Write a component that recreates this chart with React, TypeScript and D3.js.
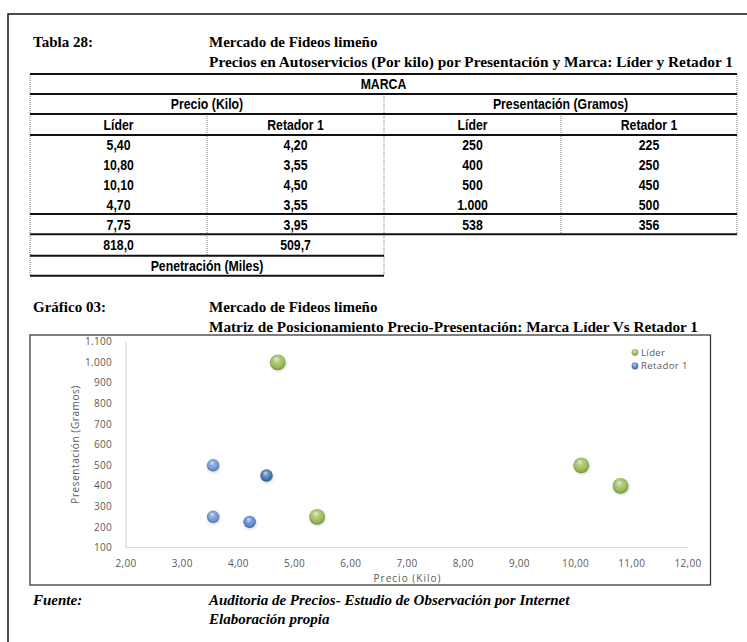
import React from "react";
import * as d3 from "d3";

const W = 747;
const H = 642;

// Tabla 28: precios por kilo y presentación en gramos, por marca
const seriesNames = ["Líder", "Retador 1"];
const precioLider = [5.4, 10.8, 10.1, 4.7];
const precioRetador = [4.2, 3.55, 4.5, 3.55];
const gramosLider = [250, 400, 500, 1000];
const gramosRetador = [225, 250, 450, 500];
const promedioPrecio = [7.75, 3.95];
const promedioGramos = [538, 356];
const penetracionMiles = [818.0, 509.7];

// Ticks de los ejes del gráfico 03
const precioTicks = [2, 3, 4, 5, 6, 7, 8, 9, 10, 11, 12];
const gramosTicks = [100, 200, 300, 400, 500, 600, 700, 800, 900, 1000, 1100];

// Colores de las burbujas
const liderColors = ["#9bbb59", "#9bbb59", "#9bbb59", "#9bbb59"];
const retadorColors = ["#5b87c9", "#6d95d2", "#4075a8", "#6d95d2"];
const legendColors = ["#9bbb59", "#4f81bd"];

const es = d3.formatLocale({ decimal: ",", thousands: ".", grouping: [3], currency: ["", ""] });
const f2 = es.format(",.2f");
const f1 = es.format(",.1f");
const f0 = es.format(",.0f");

const SANS = "'Liberation Sans', Arial, sans-serif";
const SERIF = "'Liberation Serif', 'Times New Roman', serif";
const CHART = "'Open Sans', 'Noto Sans', sans-serif";

function gradId(c: string) {
  return "sph" + c.replace("#", "");
}

function Sphere({ cx, cy, r, color }: { cx: number; cy: number; r: number; color: string }) {
  return (
    <g>
      <ellipse cx={cx + 0.6} cy={cy + 1.2} rx={r + 0.6} ry={r + 0.4} fill="#000" opacity={0.12} filter="url(#soft)" />
      <circle cx={cx} cy={cy} r={r} fill={`url(#${gradId(color)})`} />
    </g>
  );
}

export default function App() {
  // Geometría de la tabla
  const colX = [30, 207, 384, 561, 737];
  const rowY = [74, 94, 114, 135, 154.75, 174.5, 194.25, 214, 234.3, 255.7, 275.7];
  const mid = (a: number, b: number) => (a + b) / 2;

  // Escalas del gráfico
  const x = d3.scaleLinear().domain([2, 12]).range([126, 688]);
  const y = d3.scaleLinear().domain([100, 1100]).range([547.7, 341.7]);
  const r = d3.scaleSqrt().domain([0, d3.max(penetracionMiles) as number]).range([0, 7.9]);

  const points = [
    ...precioLider.map((p, i) => ({ key: "l" + i, px: p, g: gramosLider[i], pen: penetracionMiles[0], c: liderColors[i] })),
    ...precioRetador.map((p, i) => ({ key: "r" + i, px: p, g: gramosRetador[i], pen: penetracionMiles[1], c: retadorColors[i] })),
  ];
  const colors = Array.from(new Set([...liderColors, ...retadorColors, ...legendColors]));

  // Texto de celda en una sans estrecha (Arial comprimida horizontalmente)
  const cellText = (t: string, cx: number, cy: number, key: string) => (
    <text
      key={key}
      transform={`translate(${cx},${cy}) scale(0.82,1)`}
      dy="0.36em"
      textAnchor="middle"
      fontFamily={SANS}
      fontWeight="bold"
      fontSize={15}
      fill="#000"
    >
      {t}
    </text>
  );

  const dataRows = precioLider.map((_, i) => [
    f2(precioLider[i]),
    f2(precioRetador[i]),
    f0(gramosLider[i]),
    f0(gramosRetador[i]),
  ]);

  const thick = { stroke: "#111", strokeWidth: 2 };
  const dotted = { stroke: "#777", strokeWidth: 1, strokeDasharray: "1 1" };

  return (
    <svg width={W} height={H} style={{ position: "absolute", left: 0, top: 0, background: "#fff" }}>
      <defs>
        {colors.map((c) => (
          <radialGradient key={c} id={gradId(c)} cx="50%" cy="45%" r="55%" fx="40%" fy="28%">
            <stop offset="0%" stopColor={d3.interpolateRgb(c, "#ffffff")(0.75)} />
            <stop offset="35%" stopColor={d3.interpolateRgb(c, "#ffffff")(0.25)} />
            <stop offset="75%" stopColor={c} />
            <stop offset="100%" stopColor={d3.color(c)!.darker(0.8).formatHex()} />
          </radialGradient>
        ))}
        <filter id="soft" x="-50%" y="-50%" width="200%" height="200%">
          <feGaussianBlur stdDeviation="1" />
        </filter>
      </defs>

      {/* marco de la página */}
      <rect x={8} y={14} width={W + 10} height={H + 10} fill="none" stroke="#111" strokeWidth={1.5} />

      {/* encabezado de la tabla */}
      <g fontFamily={SERIF} fontWeight="bold" fontSize={15} fill="#000">
        <text x={33} y={47}>Tabla 28:</text>
        <text x={209} y={47}>Mercado de Fideos limeño</text>
        <text x={209} y={67} textLength={524} lengthAdjust="spacingAndGlyphs">
          Precios en Autoservicios (Por kilo) por Presentación y Marca: Líder y Retador 1
        </text>
      </g>

      {/* tabla */}
      <g>
        {/* verticales punteadas */}
        <line x1={colX[0]} x2={colX[0]} y1={rowY[0]} y2={rowY[10]} {...dotted} />
        <line x1={colX[4]} x2={colX[4]} y1={rowY[0]} y2={rowY[8]} {...dotted} />
        <line x1={colX[2]} x2={colX[2]} y1={rowY[1]} y2={rowY[10]} {...dotted} />
        <line x1={colX[1]} x2={colX[1]} y1={rowY[2]} y2={rowY[9]} {...dotted} />
        <line x1={colX[3]} x2={colX[3]} y1={rowY[2]} y2={rowY[8]} {...dotted} />
        {/* horizontales */}
        {[0, 1, 2, 3, 7, 8].map((k) => (
          <line key={"h" + k} x1={colX[0]} x2={colX[4]} y1={rowY[k]} y2={rowY[k]} {...thick} />
        ))}
        {[9, 10].map((k) => (
          <line key={"hp" + k} x1={colX[0]} x2={colX[2]} y1={rowY[k]} y2={rowY[k]} {...thick} />
        ))}

        {cellText("MARCA", mid(colX[0], colX[4]), mid(rowY[0], rowY[1]), "marca")}
        {cellText("Precio (Kilo)", mid(colX[0], colX[2]), mid(rowY[1], rowY[2]), "precio")}
        {cellText("Presentación (Gramos)", mid(colX[2], colX[4]), mid(rowY[1], rowY[2]), "pres")}
        {[0, 1, 2, 3].map((c) =>
          cellText(seriesNames[c % 2], mid(colX[c], colX[c + 1]), mid(rowY[2], rowY[3]), "hd" + c)
        )}
        {dataRows.map((row, ri) =>
          row.map((t, c) => cellText(t, mid(colX[c], colX[c + 1]), mid(rowY[3 + ri], rowY[4 + ri]), `d${ri}-${c}`))
        )}
        {[f2(promedioPrecio[0]), f2(promedioPrecio[1]), f0(promedioGramos[0]), f0(promedioGramos[1])].map((t, c) =>
          cellText(t, mid(colX[c], colX[c + 1]), mid(rowY[7], rowY[8]), "avg" + c)
        )}
        {penetracionMiles.map((v, c) => cellText(f1(v), mid(colX[c], colX[c + 1]), mid(rowY[8], rowY[9]), "pen" + c))}
        {cellText("Penetración (Miles)", mid(colX[0], colX[2]), mid(rowY[9], rowY[10]), "penlbl")}
      </g>

      {/* encabezado del gráfico */}
      <g fontFamily={SERIF} fontWeight="bold" fontSize={15} fill="#000">
        <text x={33} y={312}>Gráfico 03:</text>
        <text x={209} y={312}>Mercado de Fideos limeño</text>
        <text x={209} y={332} textLength={489} lengthAdjust="spacingAndGlyphs">
          Matriz de Posicionamiento Precio-Presentación: Marca Líder Vs Retador 1
        </text>
      </g>

      {/* área del gráfico */}
      <rect x={30} y={335} width={680.5} height={250} fill="#fff" stroke="#3a3a3a" strokeWidth={1.3} />

      {/* ejes */}
      <line x1={x(2)} x2={x(2)} y1={y(1100)} y2={y(100)} stroke="#d9d9d9" strokeWidth={1.2} />
      <line x1={x(2)} x2={x(12)} y1={y(100)} y2={y(100)} stroke="#d9d9d9" strokeWidth={1.2} />

      <g fontFamily={CHART} fontSize={10} fill="#595959" letterSpacing={0.3}>
        {gramosTicks.map((t) => (
          <text key={"yt" + t} x={112} y={y(t)} dy="0.35em" textAnchor="end">
            {f0(t)}
          </text>
        ))}
        {precioTicks.map((t) => (
          <text key={"xt" + t} x={x(t)} y={563} dy="0.35em" textAnchor="middle">
            {f2(t)}
          </text>
        ))}
      </g>

      <g fontFamily={CHART} fontSize={10} fill="#595959">
        <text x={(x(2) + x(12)) / 2} y={578} dy="0.35em" textAnchor="middle" textLength={67} lengthAdjust="spacing">
          Precio (Kilo)
        </text>
        <text
          transform={`translate(75,${(y(100) + y(1100)) / 2}) rotate(-90)`}
          dy="0.35em"
          textAnchor="middle"
          textLength={118}
          lengthAdjust="spacing"
        >
          Presentación (Gramos)
        </text>
      </g>

      {/* burbujas: tamaño según penetración */}
      {points.map((p) => (
        <Sphere key={p.key} cx={x(p.px)} cy={y(p.g)} r={r(p.pen)} color={p.c} />
      ))}

      {/* leyenda */}
      <g fontFamily={CHART} fontSize={9.5} fill="#595959" letterSpacing={0.4}>
        {seriesNames.map((s, i) => (
          <g key={s}>
            <circle cx={635} cy={352.3 + i * 13.7} r={3.4} fill={`url(#${gradId(legendColors[i])})`} />
            <text x={641} y={352.3 + i * 13.7} dy="0.35em">
              {s}
            </text>
          </g>
        ))}
      </g>

      {/* fuente */}
      <g fontFamily={SERIF} fontWeight="bold" fontStyle="italic" fontSize={15} fill="#000">
        <text x={33} y={605}>Fuente:</text>
        <text x={209} y={605}>Auditoria de Precios- Estudio de Observación por Internet</text>
        <text x={209} y={624}>Elaboración propia</text>
      </g>
    </svg>
  );
}
